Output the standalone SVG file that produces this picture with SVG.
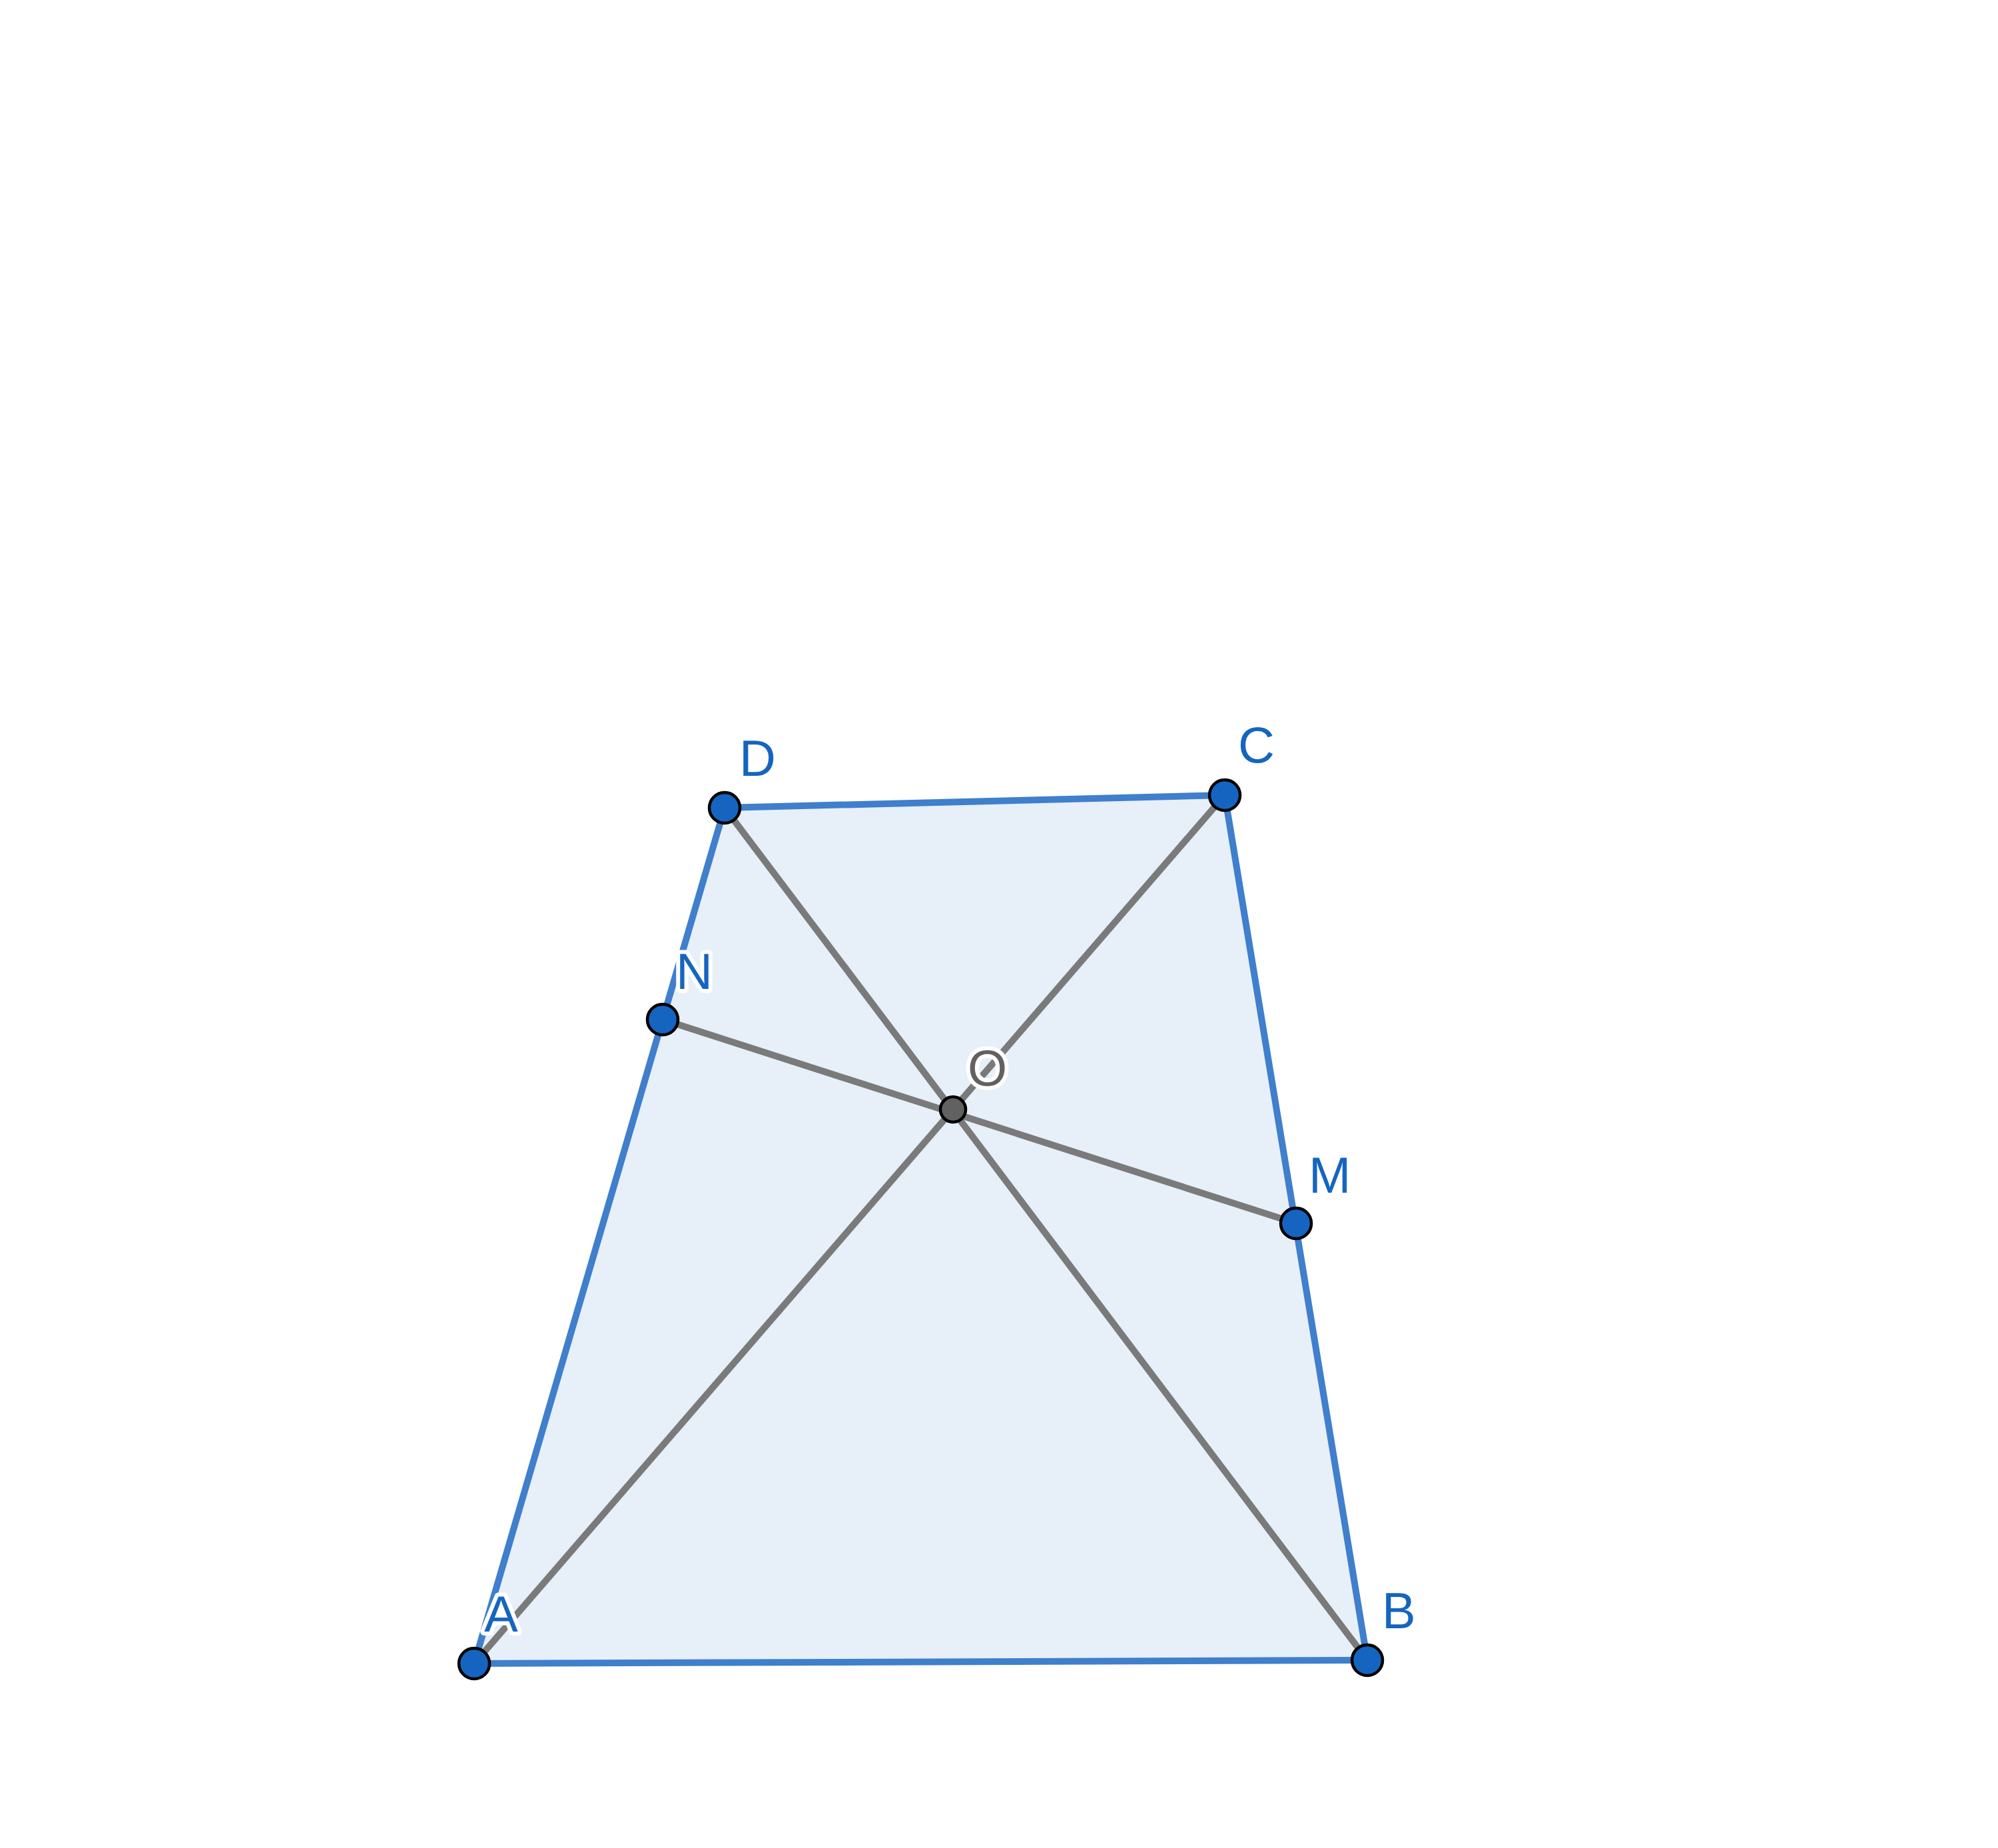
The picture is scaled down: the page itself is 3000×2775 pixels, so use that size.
<svg xmlns="http://www.w3.org/2000/svg" width="3000" height="2775" viewBox="0 0 3000 2775">
<style>
.edge{stroke:#3f7fcc;stroke-width:10;fill:none;stroke-linecap:round}
.gray{stroke:#7a7a7a;stroke-width:10;fill:none;stroke-linecap:round}
.pt{fill:#1565c0;stroke:#000;stroke-width:4.5}
.po{fill:#616161;stroke:#000;stroke-width:4.5}
.lbl{font-family:"Liberation Sans",Arial,sans-serif;font-size:76px;fill:#1565c0;stroke:#fff;stroke-width:12;paint-order:stroke;stroke-linejoin:round}
.lblo{fill:#616161}
</style>
<rect width="3000" height="2775" fill="#fff"/>
<polygon points="712,2498 2053,2493 1839,1194 1088,1213" fill="#e7eff8"/>
<g id="connectors">
<line class="edge" x1="712" y1="2498" x2="2053" y2="2493"/>
<line class="edge" x1="2053" y1="2493" x2="1839" y2="1194"/>
<line class="edge" x1="1839" y1="1194" x2="1088" y2="1213"/>
<line class="edge" x1="1088" y1="1213" x2="712" y2="2498"/>
<line class="gray" x1="712" y1="2498" x2="1839" y2="1194"/>
<line class="gray" x1="1088" y1="1213" x2="2053" y2="2493"/>
<line class="gray" x1="995" y1="1531" x2="1946" y2="1837"/>
</g>
<g id="node-O"><circle class="po" cx="1431" cy="1666" r="19"/><text class="lbl lblo" x="1453" y="1630">O</text></g>
<g id="node-A"><circle class="pt" cx="712" cy="2498" r="23"/><text class="lbl" x="727" y="2450">A</text></g>
<g id="node-B"><circle class="pt" cx="2053" cy="2493" r="23"/><text class="lbl" x="2075" y="2445">B</text></g>
<g id="node-C"><circle class="pt" cx="1839" cy="1194" r="23"/><text class="lbl" x="1859" y="1145">C</text></g>
<g id="node-D"><circle class="pt" cx="1088" cy="1213" r="23"/><text class="lbl" x="1110" y="1165">D</text></g>
<g id="node-N"><circle class="pt" cx="995" cy="1531" r="23"/><text class="lbl" x="1015" y="1485">N</text></g>
<g id="node-M"><circle class="pt" cx="1946" cy="1837" r="23"/><text class="lbl" x="1965" y="1791">M</text></g>
</svg>
